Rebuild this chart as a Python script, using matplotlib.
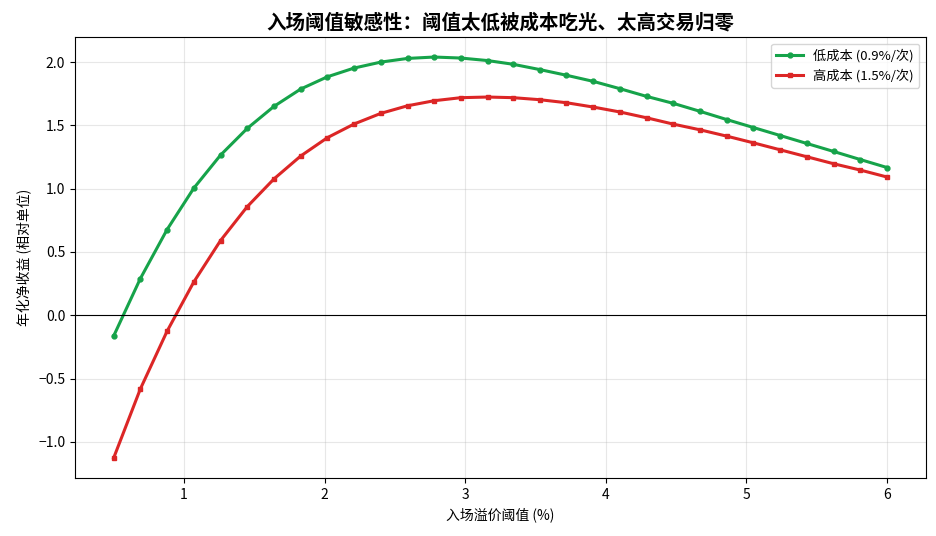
import matplotlib
matplotlib.use("Agg")
import matplotlib.pyplot as plt

plt.rcParams['font.family'] = ['Noto Sans CJK SC', 'DejaVu Sans']
plt.rcParams['axes.unicode_minus'] = True

# 入场阈值 (%)
umbrales = [0.50, 0.69, 0.88, 1.07, 1.26, 1.45, 1.64, 1.83, 2.02, 2.21,
            2.40, 2.59, 2.78, 2.97, 3.16, 3.34, 3.53, 3.72, 3.91, 4.10,
            4.29, 4.48, 4.67, 4.86, 5.05, 5.24, 5.43, 5.62, 5.81, 6.00]

# 低成本 (0.9%/次)
bajo_costo = [-0.164, 0.29, 0.677, 1.004, 1.265, 1.476, 1.65, 1.787, 1.884, 1.953,
              2.0, 2.029, 2.04, 2.032, 2.012, 1.983, 1.941, 1.896, 1.848, 1.79,
              1.729, 1.674, 1.611, 1.546, 1.483, 1.42, 1.357, 1.294, 1.23, 1.167]

# 高成本 (1.5%/次)
alto_costo = [-1.128, -0.582, -0.126, 0.263, 0.59, 0.858, 1.077, 1.258, 1.403, 1.511,
              1.595, 1.655, 1.695, 1.719, 1.724, 1.719, 1.703, 1.679, 1.645, 1.606,
              1.56, 1.51, 1.465, 1.415, 1.362, 1.307, 1.252, 1.197, 1.147, 1.092]

fig = plt.figure(figsize=(9.37, 5.36), dpi=100)
ax = fig.add_axes([0.080, 0.108, 0.908, 0.823])

ax.plot(umbrales, bajo_costo, color="#16a34a", lw=2.2, marker="o", ms=3.5,
        label="低成本 (0.9%/次)")
ax.plot(umbrales, alto_costo, color="#dc2626", lw=2.2, marker="s", ms=3.5,
        label="高成本 (1.5%/次)")
ax.axhline(0, color="black", lw=0.8)

ax.set_xlabel("入场溢价阈值 (%)", fontsize=10)
ax.set_ylabel("年化净收益 (相对单位)", fontsize=10)
ax.set_title("入场阈值敏感性：阈值太低被成本吃光、太高交易归零",
             fontsize=14, fontweight="bold")
ax.grid(True, alpha=0.3)
ax.legend(loc="upper right", fontsize=9.5)

fig.savefig("out.png", dpi=100)
